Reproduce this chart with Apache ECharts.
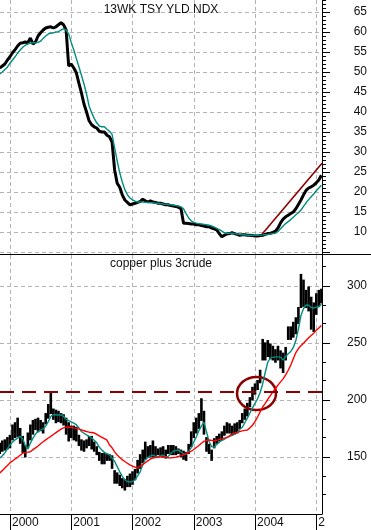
<!DOCTYPE html>
<html>
<head>
<meta charset="utf-8">
<script src="https://cdn.jsdelivr.net/npm/echarts@6.0.0/dist/echarts.min.js"></script>
<style>
  html, body { margin: 0; padding: 0; background: #fff; }
  #chart { width: 371px; height: 530px; }
</style>
</head>
<body>
<div id="chart"></div>
<script>
// half-monthly samples, starting Nov 1999
var startYear = 1999.833;
var years = [2000, 2001, 2002, 2003, 2004, 2005];

// 13 week T-bill yield index (x10)
var tbill = [51.0, 51.5, 52.0, 53.0, 53.8, 54.8, 55.6, 56.5, 57.2, 57.3,
  57.5, 57.3, 58.5, 57.0, 57.5, 59.0, 59.8, 60.5, 61.0, 61.2,
  61.3, 61.0, 61.3, 61.8, 62.3, 61.8, 60.5, 51.5, 52.0, 51.0,
  49.8, 47.2, 44.8, 42.0, 40.0, 37.8, 36.8, 36.3, 36.0, 35.2,
  35.0, 35.0, 34.2, 33.8, 32.5, 25.5, 22.2, 21.2, 19.3, 18.0,
  17.4, 16.8, 17.0, 17.2, 17.4, 17.6, 18.2, 17.8, 17.5, 17.8,
  17.5, 17.4, 17.2, 17.2, 17.0, 16.8, 16.8, 16.6, 16.5, 16.4,
  16.2, 15.8, 12.2, 12.2, 12.1, 12.0, 12.0, 11.8, 11.8, 11.6,
  11.5, 11.3, 11.3, 11.0, 10.8, 10.5, 9.6, 8.8, 9.2, 9.5,
  9.6, 9.8, 9.6, 9.4, 9.2, 9.3, 9.3, 9.2, 9.2, 9.1,
  9.0, 9.0, 9.1, 9.2, 9.4, 9.6, 9.7, 9.9, 10.2, 11.0,
  12.3, 13.2, 13.8, 14.2, 14.6, 15.0, 15.8, 16.9, 18.0, 19.3,
  20.4, 21.0, 21.3, 21.7, 22.3, 23.0, 24.2];
var tbillMa = [49.5, 50.0, 50.6, 51.2, 52.2, 53.0, 53.8, 54.7, 55.5, 56.2,
  56.7, 57.0, 57.2, 57.3, 57.3, 57.4, 57.7, 58.4, 59.0, 59.5,
  59.7, 59.8, 60.0, 60.1, 60.5, 60.8, 60.5, 59.5, 57.4, 55.5,
  53.4, 51.3, 49.2, 47.0, 44.5, 41.5, 39.8, 38.4, 37.3, 36.5,
  36.3, 36.3, 35.7, 35.2, 34.4, 31.0, 27.8, 24.8, 22.5, 20.6,
  19.3, 18.5, 18.0, 17.7, 17.5, 17.5, 17.5, 17.4, 17.4, 17.3,
  17.3, 17.2, 17.2, 17.1, 17.0, 16.9, 16.9, 16.8, 16.7, 16.6,
  16.5, 16.3, 15.8, 14.6, 13.5, 12.8, 12.4, 12.2, 12.1, 12.0,
  11.9, 11.8, 11.7, 11.5, 11.2, 10.9, 10.6, 10.2, 9.8, 9.7,
  9.7, 9.7, 9.6, 9.5, 9.4, 9.3, 9.3, 9.2, 9.2, 9.2,
  9.2, 9.2, 9.2, 9.3, 9.3, 9.4, 9.5, 9.6, 9.7, 10.1,
  10.8, 11.5, 12.1, 12.6, 13.1, 13.7, 14.3, 14.8, 15.5, 16.4,
  17.3, 18.1, 18.8, 19.5, 20.3, 21.0, 21.7];
var trendX = [2004.11, 2005.093];
var trendY = [9.4, 27.2];

// copper plus 3crude: low / high per half month
var cuLo = [153, 155, 156, 157, 158, 165, 167, 168, 162, 154,
  150, 158, 165, 170, 174, 172, 173, 171, 179, 184,
  188, 183, 180, 181, 180, 178, 170, 164, 167, 165,
  164, 160, 156, 155, 158, 160, 157, 155, 152, 147,
  144, 144, 147, 147, 140, 127, 127, 125, 123, 121,
  124, 124, 126, 130, 136, 140, 145, 148, 150, 150,
  150, 150, 152, 151, 150, 149, 153, 152, 152, 152,
  153, 150, 148, 147, 153, 159, 167, 171, 175, 182,
  170, 155, 153, 147, 158, 162, 164, 165, 169, 171,
  171, 169, 170, 171, 175, 180, 183, 186, 194, 200,
  205, 209, 215, 235, 235, 238, 236, 235, 233, 235,
  228, 224, 235, 253, 253, 255, 258, 267, 281, 282,
  281, 278, 262, 260, 275, 282, 285];
var cuHi = [162, 164, 165, 167, 169, 178, 180, 184, 175, 168,
  160, 171, 178, 182, 183, 184, 182, 180, 188, 196,
  206, 192, 191, 190, 188, 187, 184, 180, 177, 177,
  176, 169, 165, 164, 165, 168, 168, 163, 159, 154,
  153, 153, 152, 152, 151, 138, 136, 134, 131, 130,
  133, 135, 137, 139, 147, 152, 156, 163, 159, 160,
  164, 159, 157, 158, 159, 156, 160, 160, 160, 159,
  157, 156, 155, 154, 161, 172, 180, 184, 188, 201,
  190, 167, 161, 156, 166, 168, 170, 172, 177, 180,
  179, 177, 179, 180, 182, 188, 192, 197, 202, 211,
  214, 217, 226, 253, 250, 252, 249, 247, 244, 247,
  243, 241, 246, 264, 264, 268, 272, 281, 310, 305,
  296, 299, 290, 285, 293, 296, 297];
var cuMa = [149, 151, 153.5, 157, 160.5, 163, 165, 166.5, 168, 166,
  160, 157, 162, 166.5, 170, 172.5, 173.5, 174.5, 177, 181,
  185.5, 187, 187, 186.8, 186.8, 185.5, 183, 181.8, 180.8, 179.6,
  178.3, 175.5, 172.3, 170.8, 169.3, 168, 166.7, 164.7, 162.4, 158.5,
  156, 154, 153, 152, 149, 146, 141.5, 137, 133, 130,
  128.5, 128, 128.5, 130, 133.5, 137, 143, 147.5, 149.5, 151,
  151.5, 150.7, 150, 151, 151.6, 150, 150.5, 153, 155, 155.8,
  156, 154.5, 152.5, 152.5, 155, 158, 163, 167.5, 173, 177,
  180.5, 172, 163.5, 159, 158.5, 161, 163, 164.5, 165.5, 167,
  168, 169, 170, 171.5, 174, 176, 180, 184, 188.5, 193,
  197, 201, 206.5, 214, 224, 233, 236.8, 237.3, 237.7, 237.7,
  237.5, 235, 238, 240.5, 242.5, 246, 252, 262, 274, 280,
  283.2, 283, 281, 280.5, 281.4, 281.4, 284];
var cuMaLong = [136, 138, 140.3, 142.5, 144.8, 146.5, 148.2, 149.7, 151.5, 153.3,
  153.8, 154.2, 154.6, 156.4, 158, 159.6, 161.6, 163.3, 165, 166.6,
  168, 169.7, 171.3, 172.9, 174.4, 175.5, 176, 176.3, 175.9, 175.5,
  175, 174.4, 173.7, 173, 172.3, 171.7, 171.4, 171, 169.8, 168.4,
  167.2, 166, 164.8, 160.5, 158, 154.5, 151.7, 149.6, 147.6, 146,
  144.5, 143, 142, 141, 140.3, 141.8, 143.3, 144.9, 146.6, 148.2,
  149.1, 149.4, 149.7, 149.9, 149.9, 149.6, 149.3, 149.2, 149.5, 149.9,
  150.5, 151.2, 151.9, 152.9, 153.9, 155, 156.5, 158.3, 160, 162,
  163.6, 164.5, 164.9, 164.5, 164.1, 164.6, 165.3, 165.8, 166.5, 167.2,
  168.5, 170, 170.8, 171.5, 172.2, 172.8, 173.3, 173.6, 175.5, 177.8,
  181, 185, 189.5, 193.8, 197, 200.5, 203.8, 207, 210, 213,
  215.8, 218.4, 222, 226, 230.5, 236, 241.5, 245, 247.4, 249.6,
  252, 254.5, 256.5, 258.5, 261, 263, 265.3];
var breakLevel = 207;
var circleAt = [2004.024, 205.6];
var circleSize = [0.318, 14.5];

var topMajor = [5, 10, 15, 20, 25, 30, 35, 40, 45, 50, 55, 60, 65];
var topLabels = [10, 15, 20, 25, 30, 35, 40, 45, 50, 55, 60, 65];
var topMinor = [];
for (var k = 5; k <= 68; k++) topMinor.push(k);
var botMajor = [150, 200, 250, 300];
var botMinor = [117, 133, 167, 183, 217, 233, 267, 283, 317];

var chartDom = document.getElementById('chart');
var myChart = echarts.init(chartDom);
var font = 'Liberation Sans, Arial, sans-serif';
var teal = '#008c80';
var darkRed = '#8b0000';
var gridStyle = { color: '#b4b4b4', type: [4, 3], width: 1 };
var xMin = 1999.837, xMax = 2005.093;

function pairs(arr) {
  return arr.map(function (v, i) { return [startYear + i / 24, v]; });
}
var cuBars = cuLo.map(function (v, i) { return [startYear + i / 24, v, cuHi[i]]; });

var option = {
  animation: false,
  title: [
    { text: '13WK TSY YLD NDX', left: 161, top: 4, textAlign: 'center', padding: 0,
      textStyle: { fontSize: 12, fontWeight: 'normal', color: '#111', fontFamily: font } },
    { text: 'copper plus 3crude', left: 161, top: 258, textAlign: 'center', padding: 0,
      textStyle: { fontSize: 12, fontWeight: 'normal', color: '#111', fontFamily: font } }
  ],
  grid: [
    { left: 0, right: 49, top: 0, height: 254 },
    { left: 0, right: 49, top: 255, height: 259 }
  ],
  graphic: [
    { type: 'line', shape: { x1: 0, y1: 254.5, x2: 371, y2: 254.5 }, style: { stroke: '#000', lineWidth: 1 } }
  ],
  xAxis: [
    { gridIndex: 0, type: 'value', min: xMin, max: xMax,
      axisLine: { show: false }, axisTick: { show: false, customValues: years },
      axisLabel: { show: false }, splitLine: { show: true, lineStyle: gridStyle } },
    { gridIndex: 1, type: 'value', min: xMin, max: xMax,
      axisLine: { show: true, onZero: false, lineStyle: { color: '#000' } },
      axisTick: { show: true, customValues: years, length: 16, lineStyle: { color: '#000' } },
      axisLabel: { customValues: years, align: 'left', margin: 3, padding: [0, 0, 0, 2],
        fontSize: 12, color: '#111', fontFamily: font,
        formatter: function (v) { return v === 2005 ? '2' : String(v); } },
      splitLine: { show: true, lineStyle: gridStyle } }
  ],
  yAxis: [
    { gridIndex: 0, type: 'value', position: 'right', min: 4.5, max: 68,
      axisLine: { show: true, lineStyle: { color: '#000' } },
      axisTick: { show: true, customValues: topMajor, length: 8, lineStyle: { color: '#000' } },
      axisLabel: { customValues: topLabels, margin: 45, align: 'right', fontSize: 12, color: '#111', fontFamily: font },
      splitLine: { show: true, lineStyle: gridStyle } },
    { gridIndex: 0, type: 'value', position: 'right', min: 4.5, max: 68,
      axisLine: { show: false },
      axisTick: { show: true, customValues: topMinor, length: 4, lineStyle: { color: '#000' } },
      axisLabel: { show: false }, splitLine: { show: false } },
    { gridIndex: 1, type: 'value', position: 'right', min: 100, max: 327,
      axisLine: { show: true, lineStyle: { color: '#000' } },
      axisTick: { show: true, customValues: botMajor, length: 8, lineStyle: { color: '#000' } },
      axisLabel: { customValues: botMajor, margin: 45, align: 'right', fontSize: 12, color: '#111', fontFamily: font },
      splitLine: { show: true, lineStyle: gridStyle } },
    { gridIndex: 1, type: 'value', position: 'right', min: 100, max: 327,
      axisLine: { show: false },
      axisTick: { show: true, customValues: botMinor, length: 4, lineStyle: { color: '#000' } },
      axisLabel: { show: false }, splitLine: { show: false } }
  ],
  series: [
    {
      name: 'copper plus 3crude', type: 'custom', xAxisIndex: 1, yAxisIndex: 2,
      data: cuBars, encode: { x: 0, y: [1, 2] }, silent: true,
      renderItem: function (params, api) {
        var lo = api.coord([api.value(0), api.value(1)]);
        var hi = api.coord([api.value(0), api.value(2)]);
        return { type: 'line', shape: { x1: lo[0], y1: lo[1] + 0.5, x2: hi[0], y2: hi[1] - 0.5 },
          style: { stroke: '#000', lineWidth: 2.6 } };
      }
    },
    { name: 'cu ma', type: 'line', xAxisIndex: 1, yAxisIndex: 2, data: pairs(cuMa),
      showSymbol: false, silent: true, lineStyle: { color: teal, width: 1.4 } },
    { name: 'cu ma long', type: 'line', xAxisIndex: 1, yAxisIndex: 2, data: pairs(cuMaLong),
      showSymbol: false, silent: true, lineStyle: { color: '#ff0000', width: 1.4 },
      markLine: { silent: true, symbol: 'none', label: { show: false },
        lineStyle: { color: darkRed, width: 2, type: [14, 8] },
        data: [{ yAxis: breakLevel }] } },
    {
      name: 'circle', type: 'custom', xAxisIndex: 1, yAxisIndex: 2, silent: true,
      data: [[circleAt[0], circleAt[1], circleSize[0], circleSize[1]]],
      renderItem: function (params, api) {
        var c = api.coord([api.value(0), api.value(1)]);
        var e = api.coord([api.value(0) + api.value(2), api.value(1) + api.value(3)]);
        return { type: 'ellipse', shape: { cx: c[0], cy: c[1], rx: e[0] - c[0], ry: c[1] - e[1] },
          style: { fill: 'none', stroke: darkRed, lineWidth: 2.5 } };
      }
    },
    { name: '13WK TSY YLD NDX', type: 'line', xAxisIndex: 0, yAxisIndex: 0, data: pairs(tbill),
      showSymbol: false, silent: true, lineStyle: { color: '#000', width: 3 } },
    { name: 'tsy ma', type: 'line', xAxisIndex: 0, yAxisIndex: 0, data: pairs(tbillMa),
      showSymbol: false, silent: true, lineStyle: { color: teal, width: 1.4 } },
    { name: 'trend', type: 'line', xAxisIndex: 0, yAxisIndex: 0,
      data: trendX.map(function (x, i) { return [x, trendY[i]]; }),
      showSymbol: false, silent: true, lineStyle: { color: darkRed, width: 1.6 } }
  ]
};

option && myChart.setOption(option);
</script>
</body>
</html>
